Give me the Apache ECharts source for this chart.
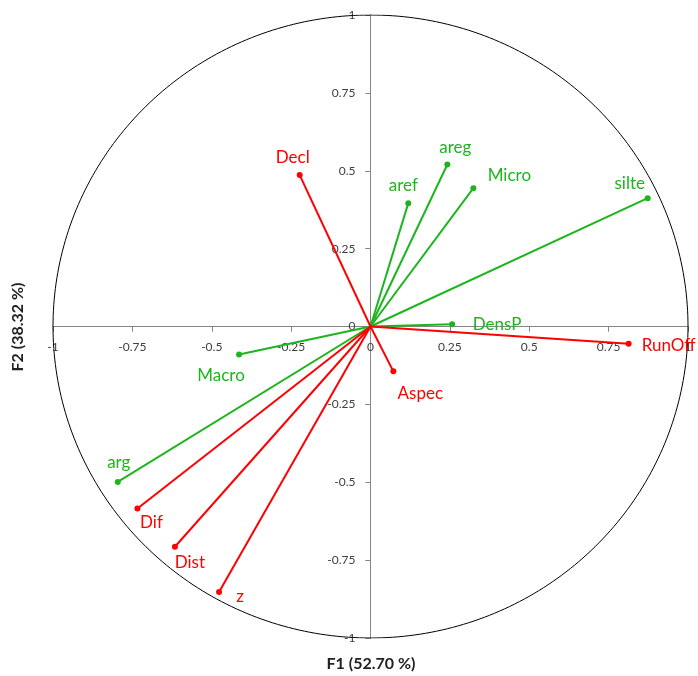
<!DOCTYPE html>
<html>
<head>
<meta charset="utf-8">
<script src="https://cdn.jsdelivr.net/npm/echarts@6/dist/echarts.min.js"></script>
<style>html,body{margin:0;padding:0;background:#fff;}#c{width:698px;height:676px;}</style>
</head>
<body>
<div id="c"></div>
<script>
const greenNames = ['aref','areg','Micro','silte','DensP','Macro','arg'];
const greenF1 = [0.119,0.242,0.324,0.873,0.257,-0.414,-0.796];
const greenF2 = [0.396,0.520,0.444,0.412,0.007,-0.090,-0.499];
const redNames = ['Decl','RunOff','Aspec','Dif','Dist','z'];
const redF1 = [-0.223,0.813,0.072,-0.734,-0.616,-0.477];
const redF2 = [0.486,-0.055,-0.144,-0.584,-0.707,-0.852];
const xAxisTitle = 'F1 (52.70 %)';
const yAxisTitle = 'F2 (38.32 %)';

const labelOffsets = {
  aref:[-5,-18], areg:[8,-17], Micro:[36,-13], silte:[-18,-15], DensP:[45,0],
  Macro:[-18,21], arg:[1,-19],
  Decl:[-7,-18], RunOff:[40,2], Aspec:[27,22], Dif:[14,14], Dist:[15,16], z:[21,5]
};

const GREEN = '#1db51d', RED = '#ff0000';
const FONT = 'Lato, "Open Sans", sans-serif';
const GRID = {left: 53, right: 10, top: 15, bottom: 38};
const W = 698, H = 676;
// distance from the grid edge to the zero line (grid spans -1..1 on both axes)
const xAxisShift = -(H - GRID.top - GRID.bottom) / 2;
const yAxisShift = -(W - GRID.left - GRID.right) / 2;

function vectorSeries(name, x, y, color) {
  return {
    type: 'line', name: name, silent: true, z: 3,
    lineStyle: {color: color, width: 2},
    itemStyle: {color: color},
    symbol: 'circle', symbolSize: 6,
    data: [
      {value: [0, 0], symbol: 'none', label: {show: false}},
      {value: [x, y], label: {show: true, position: 'inside', offset: labelOffsets[name],
        formatter: name, color: color, fontSize: 17, fontFamily: FONT}}
    ],
    animation: false
  };
}

const series = [];
const circ = [];
for (let a = 0; a <= 360; a += 1) {
  const r = a * Math.PI / 180;
  circ.push([Math.cos(r), Math.sin(r)]);
}
series.push({type: 'line', data: circ, symbol: 'none', silent: true, z: 1,
  lineStyle: {color: '#000', width: 1}, animation: false});
greenNames.forEach((n, i) => series.push(vectorSeries(n, greenF1[i], greenF2[i], GREEN)));
redNames.forEach((n, i) => series.push(vectorSeries(n, redF1[i], redF2[i], RED)));

function axisCommon(extra) {
  return Object.assign({
    type: 'value', min: -1, max: 1, interval: 0.25,
    axisLine: {onZero: false, lineStyle: {color: '#868686', width: 1}},
    axisTick: {show: true, length: 5, lineStyle: {color: '#868686'}},
    axisLabel: {color: '#404040', fontSize: 12, fontFamily: FONT, margin: 15},
    splitLine: {show: false}
  }, extra);
}

const chart = echarts.init(document.getElementById('c'));
chart.setOption({
  animation: false,
  grid: Object.assign({containLabel: false, outerBoundsMode: 'none'}, GRID),
  xAxis: [
    axisCommon({offset: xAxisShift}),
    axisCommon({offset: xAxisShift, axisLabel: {show: false}, axisTick: {show: true, inside: true, length: 5, lineStyle: {color: '#868686'}}})
  ],
  yAxis: [
    axisCommon({offset: yAxisShift}),
    axisCommon({offset: yAxisShift, axisLabel: {show: false}, axisTick: {show: true, inside: true, length: 5, lineStyle: {color: '#868686'}}})
  ],
  graphic: [
    {type: 'text', x: 371, y: 664, style: {text: xAxisTitle, fill: '#222',
      font: 'bold 16px ' + FONT, align: 'center', verticalAlign: 'middle'}},
    {type: 'text', x: 18, y: 327, rotation: Math.PI / 2, style: {text: yAxisTitle, fill: '#222',
      font: 'bold 16px ' + FONT, align: 'center', verticalAlign: 'middle'}}
  ],
  series: series
});
</script>
</body>
</html>
